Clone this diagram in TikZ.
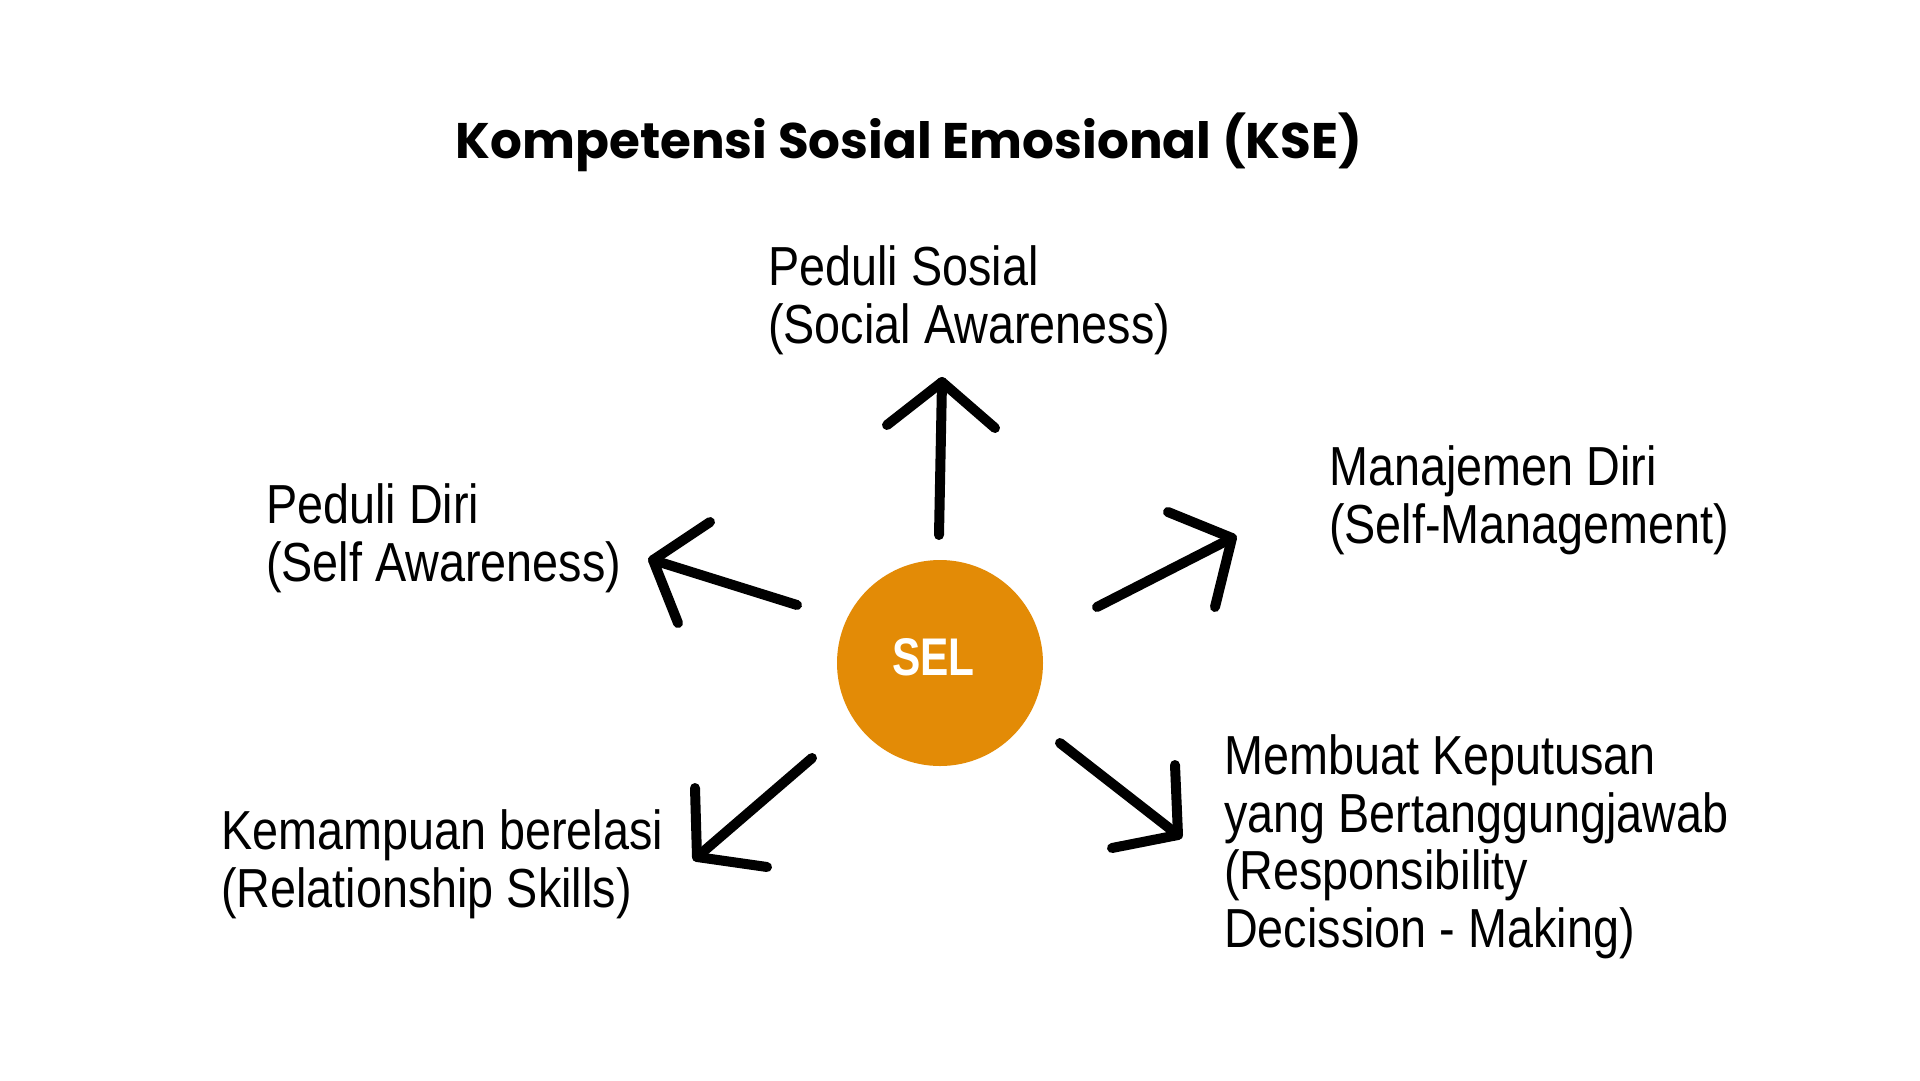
\documentclass[tikz,border=0pt]{standalone}
\usepackage{fontspec}
\newfontfamily\bodyfont{Liberation Sans}[FakeStretch=0.85]
\newfontfamily\titlefont{Poppins}
\newfontfamily\selfont{Liberation Sans}[FakeStretch=0.8]
\definecolor{selorange}{HTML}{E38B06}
\begin{document}
\begin{tikzpicture}[x=1pt,y=-1pt,
  lbl/.style={anchor=base west,inner sep=0pt,align=left,font=\bodyfont\fontsize{55}{57.5}\selectfont},
  arr/.style={line width=10pt,line cap=round,line join=round,black}]
\fill[white] (0,0) rectangle (1920,1080);
\useasboundingbox (0,0) rectangle (1920,1080);

\node[anchor=base,inner sep=0pt,font=\titlefont\bfseries\fontsize{50}{60}\selectfont] (title) at (909,158) {Kompetensi Sosial Emosional (KSE)};

\fill[selorange] (940,663) circle (103);
\node[anchor=base,inner sep=0pt,text=white,font=\selfont\bfseries\fontsize{53}{60}\selectfont] (sel) at (933.5,675) {SEL};

% base anchor of a multi-line node = baseline of its last line
\node[lbl] (soc) at (768,343) {Peduli Sosial\\(Social Awareness)};
\node[lbl] (self) at (266,581) {Peduli Diri\\(Self Awareness)};
\node[lbl] (man) at (1329,543) {Manajemen Diri\\(Self-Management)};
\node[lbl] (rel) at (221,907) {Kemampuan berelasi\\(Relationship Skills)};
\node[lbl] (dec) at (1224,947) {Membuat Keputusan\\yang Bertanggungjawab\\(Responsibility\\Decission - Making)};

% arrows
\coordinate (a1s) at (939,535); \coordinate (a1t) at (942,382);
\coordinate (a1h1) at (887,425); \coordinate (a1h2) at (995,428);
\coordinate (a2s) at (797,605); \coordinate (a2t) at (653,560);
\coordinate (a2h1) at (710,522); \coordinate (a2h2) at (678,623);
\coordinate (a3s) at (1097,607); \coordinate (a3t) at (1232,538);
\coordinate (a3h1) at (1168,512); \coordinate (a3h2) at (1215,607);
\coordinate (a4s) at (1060,743); \coordinate (a4t) at (1178,835);
\coordinate (a4h1) at (1175,765); \coordinate (a4h2) at (1112,848);
\coordinate (a5s) at (812,758); \coordinate (a5t) at (697,857);
\coordinate (a5h1) at (695,788); \coordinate (a5h2) at (767,867);
\foreach \i in {1,...,5}{
  \draw[arr] (a\i s) -- (a\i t);
  \draw[arr] (a\i h1) -- (a\i t) -- (a\i h2);
}
\end{tikzpicture}
\end{document}
